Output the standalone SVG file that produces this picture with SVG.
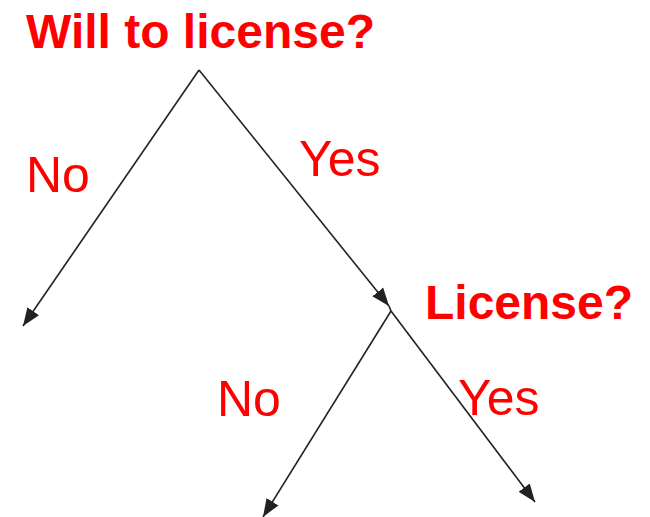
<svg xmlns="http://www.w3.org/2000/svg" width="650" height="517" viewBox="0 0 650 517">
<style>
.t{font-family:"Liberation Sans",Arial,sans-serif;fill:#ff0000;font-size:50px}
.b{font-weight:bold;font-size:48px}
.c{stroke:#222;stroke-width:1.6;fill:none}
</style>
<defs>
<marker id="ah" markerUnits="userSpaceOnUse" markerWidth="20" markerHeight="16" viewBox="0 0 20 16" refX="18" refY="8" orient="auto">
<path d="M0,1 L18,8 L0,15 Z" fill="#222"/>
</marker>
</defs>
<rect width="650" height="517" fill="#fff"/>
<g id="connectors">
<path class="c" d="M199,70 L23,326" marker-end="url(#ah)"/>
<path class="c" d="M199,70 L389,306" marker-end="url(#ah)"/>
<path class="c" d="M389,306 L391,311"/>
<path class="c" d="M391,311 L263,517" marker-end="url(#ah)"/>
<path class="c" d="M391,311 L535,502" marker-end="url(#ah)"/>
</g>
<g id="q1"><text class="t b" x="26" y="48">Will to license?</text></g>
<g id="q2"><text class="t b" x="425" y="319">License?</text></g>
<g id="l1"><text class="t" x="26" y="192">No</text></g>
<g id="l2"><text class="t" x="299" y="176">Yes</text></g>
<g id="l3"><text class="t" x="217" y="416">No</text></g>
<g id="l4"><text class="t" x="458" y="415">Yes</text></g>
</svg>
